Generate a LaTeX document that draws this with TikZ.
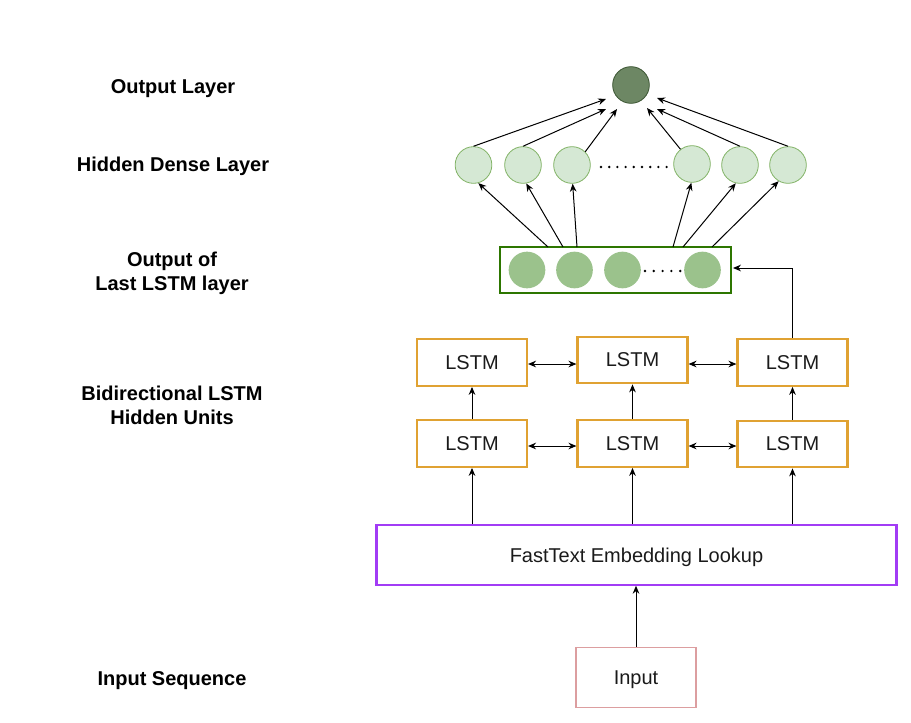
\documentclass[tikz,border=0pt]{standalone}
\usepackage{fontspec}
\setmainfont{Liberation Sans}
\usetikzlibrary{arrows.meta,calc}
\definecolor{outfill}{HTML}{6D8764}
\definecolor{outdraw}{HTML}{3A5431}
\definecolor{hidfill}{HTML}{D5E8D4}
\definecolor{hiddraw}{HTML}{82B366}
\definecolor{lofill}{HTML}{9BC28C}
\definecolor{lodraw}{HTML}{2D7600}
\definecolor{lstmdraw}{HTML}{E0A232}
\definecolor{ftdraw}{HTML}{A23CF5}
\definecolor{indraw}{HTML}{DC9EA0}
\definecolor{txt}{HTML}{1A1A1A}
\tikzset{
  arr/.style={-{Stealth[length=6pt,width=5pt]}, line width=0.75pt},
  darr/.style={{Stealth[length=6pt,width=5pt]}-{Stealth[length=6pt,width=5pt]}, line width=0.75pt},
  lbl/.style={font=\bfseries\fontsize{15pt}{17.5pt}\selectfont, align=center, text=black, yshift=-1.8pt},
  lstmbox/.style={draw=lstmdraw, line width=1.6pt, minimum width=82.5pt, minimum height=35pt, text=txt, text depth=0pt, font=\fontsize{15pt}{18pt}\selectfont},
  hid/.style={circle, draw=hiddraw, fill=hidfill, line width=0.6pt, minimum size=27.5pt, inner sep=0pt},
  loc/.style={circle, fill=lofill, minimum size=27.5pt, inner sep=0pt},
}
\begin{document}
\begin{tikzpicture}[x=0.75pt,y=-0.75pt]
\useasboundingbox (0,0) rectangle (911,722);
% labels
\node[lbl] (L1) at (173,86) {Output Layer};
\node[lbl] (L2) at (173,164) {Hidden Dense Layer};
\node[lbl] (L3) at (172,271) {Output of\\Last LSTM layer};
\node[lbl] (L4) at (172,403) {Bidirectional LSTM\\Hidden Units};
\node[lbl] (L5) at (172,678) {Input Sequence};
% output circle
\node[circle, draw=outdraw, fill=outfill, line width=0.6pt, minimum size=27.5pt, inner sep=0pt] (o) at (631,85) {};
% hidden circles
\node[hid] (h1) at (473.5,165) {};
\node[hid] (h2) at (523,165) {};
\node[hid] (h3) at (572,165) {};
\node[hid] (h4) at (692,164) {};
\node[hid] (h5) at (740,165) {};
\node[hid] (h6) at (788,165) {};
\foreach \i in {0,...,8} \fill (601+\i*8.2,167) circle (1pt);
% last LSTM output box
\node[draw=lodraw, line width=1.7pt, minimum width=173pt, minimum height=34.5pt] (lo) at (615.5,270) {};
\node[loc] (c1) at (527,270) {};
\node[loc] (c2) at (574.5,270) {};
\node[loc] (c3) at (622.5,270) {};
\node[loc] (c4) at (702.5,270) {};
\foreach \i in {0,...,4} \fill (645+\i*8.8,271) circle (1pt);
% LSTM boxes
\node[lstmbox] (t1) at (472,362.5) {LSTM};
\node[lstmbox] (t2) at (632.5,360) {LSTM};
\node[lstmbox] (t3) at (792.5,362.5) {LSTM};
\node[lstmbox] (b1) at (472,443.5) {LSTM};
\node[lstmbox] (b2) at (632.5,443.5) {LSTM};
\node[lstmbox] (b3) at (792.5,444) {LSTM};
% FastText and input
\node[draw=ftdraw, line width=1.6pt, minimum width=390pt, minimum height=44.5pt, text=txt, text depth=0pt, font=\fontsize{15pt}{18pt}\selectfont] (ft) at (636.5,555) {FastText Embedding Lookup};
\node[draw=indraw, line width=1.4pt, minimum width=89.5pt, minimum height=45pt, text=txt, text depth=0pt, font=\fontsize{15pt}{18pt}\selectfont] (in) at (636,677.5) {Input};
% coordinates
\coordinate (e1) at (606,99);
\coordinate (e2) at (606,109);
\coordinate (e3) at (617,109);
\coordinate (e4) at (647,108);
\coordinate (e5) at (657,109);
\coordinate (e6) at (657,98);
\coordinate (s1) at (548,247);
\coordinate (s2) at (563,247);
\coordinate (s3) at (577,247);
\coordinate (s4) at (673,247);
\coordinate (s5) at (683,247);
\coordinate (s6) at (712,247);
% hidden -> output
\draw[arr] (h1.north) -- (e1);
\draw[arr] (h2.north) -- (e2);
\draw[arr] (h3.45) -- (e3);
\draw[arr] (h4.128) -- (e4);
\draw[arr] (h5.north) -- (e5);
\draw[arr] (h6.north) -- (e6);
% box -> hidden
\draw[arr] (s1) -- (h1.-75);
\draw[arr] (s2) -- (h2.-80);
\draw[arr] (s3) -- (h3.-88);
\draw[arr] (s4) -- (h4.-92);
\draw[arr] (s5) -- (h5.-103);
\draw[arr] (s6) -- (h6.-120);
% LSTM top right -> output box
\draw[arr] (t3.north) |- ($(lo.east)+(1,-2)$);
% vertical arrows
\draw[arr] (b1.north) -- (t1.south);
\draw[arr] (b2.north) -- (t2.south);
\draw[arr] (b3.north) -- (t3.south);
% horizontal double arrows
\draw[darr] ($(t1.east)+(0,1.5)$) -- ($(t2.west |- t1.east)+(0,1.5)$);
\draw[darr] ($(t2.east |- t3.east)+(0,1.5)$) -- ($(t3.west)+(0,1.5)$);
\draw[darr] ($(b1.east)+(0,2.5)$) -- ($(b2.west |- b1.east)+(0,2.5)$);
\draw[darr] ($(b2.east)+(0,2.5)$) -- ($(b3.west |- b2.east)+(0,2.5)$);
% FastText -> LSTM
\draw[arr] (ft.north -| b1) -- (b1.south);
\draw[arr] (ft.north -| b2) -- (b2.south);
\draw[arr] (ft.north -| b3) -- (b3.south);
% input -> fasttext
\draw[arr] (in.north) -- (in.north |- ft.south);
\end{tikzpicture}
\end{document}
